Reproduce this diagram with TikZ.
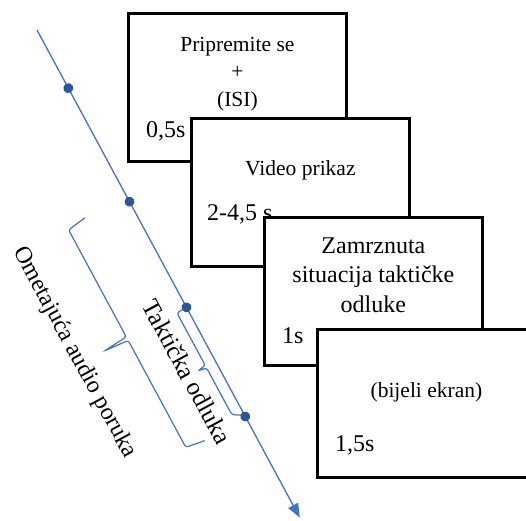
\documentclass[tikz,border=0pt]{standalone}
\usepackage{fontspec}
\setmainfont{Liberation Serif}
\usetikzlibrary{arrows.meta}
\definecolor{lineblue}{HTML}{4472C4}
\definecolor{dotblue}{HTML}{2F5597}

\begin{document}
\begin{tikzpicture}[x=1pt,y=1pt,
    screen/.style={draw, line width=2.8pt, fill=white, anchor=north west,
      minimum width=218pt, minimum height=148pt, inner sep=0pt},
    txt/.style={font=\fontsize{21.5}{27.5}\selectfont, align=center, inner sep=0pt, anchor=base},
    bigtxt/.style={font=\fontsize{24}{29.5}\selectfont, align=center, inner sep=0pt, anchor=base},
    timelabel/.style={font=\fontsize{24}{28}\selectfont, inner sep=0pt, anchor=base west},
    dot/.style={circle, fill=dotblue, inner sep=0pt, minimum size=10pt},
    brace/.style={lineblue, line width=1.2pt, rounded corners=2.5pt}]
  \useasboundingbox (0,0) rectangle (526,-520);
  \clip (0,0) rectangle (526,-520);

  % the four screens, each one laid over the previous
  % (base of a multi-line node = baseline of its last line)
  \node[screen] (prep) at (127,-12) {};
  \node[txt] (preptxt) at ([yshift=-94pt]prep.north) {Pripremite se\\+\\(ISI)};
  \node[timelabel] (preptime) at ([shift={(19,25)}]prep.south west) {0,5s};

  \node[screen] (video) at (190,-117) {};
  \node[txt] (videotxt) at ([yshift=-58pt]video.north) {Video prikaz};
  \node[timelabel] (videotime) at ([shift={(17,47)}]video.south west) {2-4,5 s};

  \node[screen] (freeze) at (263,-216) {};
  \node[bigtxt] (freezetxt) at ([yshift=-96pt]freeze.north) {Zamrznuta\\situacija taktičke\\odluke};
  \node[timelabel] (freezetime) at ([shift={(19,23)}]freeze.south west) {1s};

  \node[screen] (blank) at (316,-328) {};
  \node[txt] (blanktxt) at ([yshift=-69pt]blank.north) {(bijeli ekran)};
  \node[timelabel] (blanktime) at ([shift={(19,27)}]blank.south west) {1,5s};

  % time axis, x runs along the arrow
  \begin{scope}[shift={(37,-30)}, rotate=-61.68, transform shape]
    \coordinate (start) at (0,0);
    \coordinate (tip) at (554,0);
    \draw[lineblue, line width=1.3pt, -{Triangle[length=14pt,width=11pt]}] (start) -- (tip);
    \node[dot] (t1) at (66,0) {};
    \node[dot] (t2) at (195,0) {};
    \node[dot] (t3) at (315,0) {};
    \node[dot] (t4) at (439,0) {};

    \draw[brace] (188,-47) -- (191,-67) -- (312.5,-67) -- (314.5,-93)
      -- (316.5,-67) -- (438,-67) -- (441,-47);
    \draw[brace] (315,-4) -- (315.5,-11) -- (375,-11) -- (376.5,-20)
      -- (378,-11) -- (431,-11) -- (436,-3);

    \node[bigtxt, anchor=center] (audio) at (302,-120) {Ometajuća audio poruka};
    \node[bigtxt, anchor=center, font=\fontsize{25}{29.5}\selectfont] (decision) at (372,-30) {Taktička odluka};
  \end{scope}
\end{tikzpicture}
\end{document}
